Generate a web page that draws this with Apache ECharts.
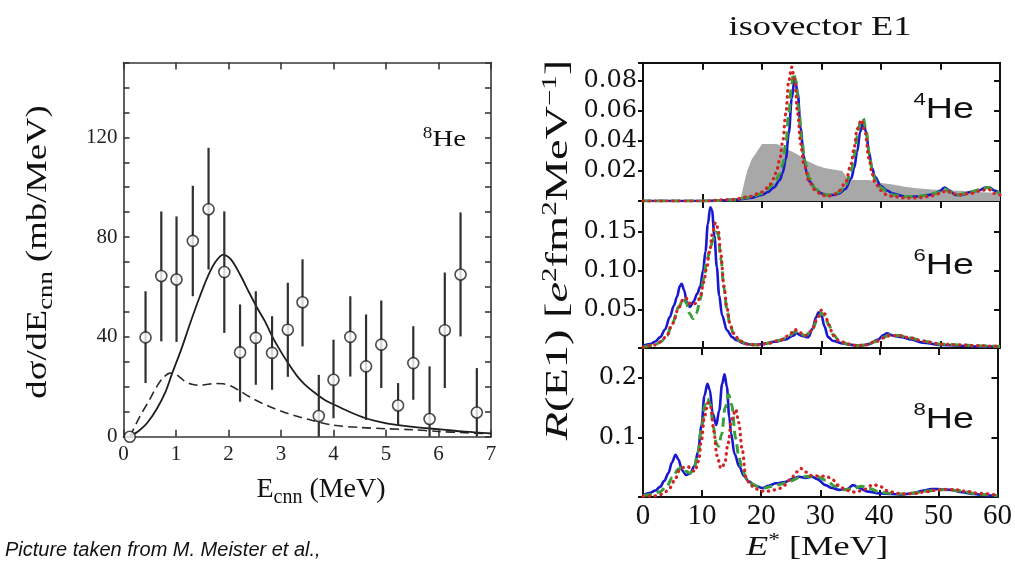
<!DOCTYPE html>
<html><head><meta charset="utf-8">
<script src="https://cdn.jsdelivr.net/npm/echarts@6/dist/echarts.min.js"></script>
<style>html,body{margin:0;padding:0;background:#fff}#c{width:1015px;height:566px}</style>
</head><body><div id="c"></div>
<script>
// ---------- Left panel: Meister et al. 8He data ----------
const meisterE  = [0.12,0.42,0.72,1.01,1.32,1.62,1.92,2.22,2.52,2.83,3.13,3.41,3.72,4.00,4.32,4.62,4.91,5.23,5.52,5.83,6.12,6.42,6.73];
const meisterY  = [0,39.8,64.4,63,78.5,91.2,66,33.8,39.6,33.6,42.9,53.9,8.3,22.8,40,28.2,36.9,12.5,29.5,7.1,42.7,65,9.7];
const meisterLo = [0,21.5,38.2,38,56.3,67,41.6,14,20.8,18.8,24,36.2,0,7.4,24.1,6.7,19.5,4.7,14.8,0,19.5,40.2,0];
const meisterHi = [0,58.3,90.3,88.3,100.6,115.8,90.3,53,58.3,48.3,61.7,71.1,24.8,38.9,56.3,49,54.6,21.5,44.3,28.2,65.8,89.9,27.5];
const fitSolid = [[0.12,0],[0.3,2.5],[0.45,5.5],[0.63,11],[0.8,18],[0.92,25],[1.1,35],[1.27,45.5],[1.45,56],[1.6,64],[1.75,70],[1.9,73],[2.05,71],[2.22,65],[2.4,57.5],[2.55,51.5],[2.7,46],[2.85,39.5],[3.0,34],[3.15,29],[3.3,24.5],[3.45,21],[3.65,17.5],[3.85,14.5],[4.05,12.5],[4.3,10],[4.6,7.5],[4.9,5.8],[5.2,4.7],[5.6,3.7],[6.0,3],[6.5,2],[7,1.3]];
const fitDashed = [[0.12,0],[0.31,8],[0.5,15],[0.63,20],[0.75,23.5],[0.89,25.5],[1.0,25],[1.15,22.5],[1.3,21],[1.45,20.6],[1.6,21],[1.75,21.3],[1.9,21.2],[2.05,20.3],[2.22,18.3],[2.4,16],[2.6,13.8],[2.86,11.4],[3.1,9.5],[3.37,7.8],[3.6,6.5],[4.0,4.6],[4.5,3.7],[5.0,3.2],[5.5,2.8],[6.0,2.1],[6.5,1.6],[6.95,1.2]];
const leftXTickLabels = ['0','1','2','3','4','5','6','7'];
const leftYTickLabels = ['0','40','80','120'];

// ---------- Right panels: isovector E1 strength ----------
const rightXTickLabels = ['0','10','20','30','40','50','60'];
const he4YTickLabels = ['0.02','0.04','0.06','0.08'];
const he6YTickLabels = ['0.05','0.10','0.15'];
const he8YTickLabels = ['0.1','0.2'];

const he4Exp = [[16,0],[16.5,0.003],[17,0.012],[17.5,0.02],[18.3,0.028],[19,0.032],[20,0.038],[22.5,0.038],[23.5,0.036],[24.5,0.034],[26,0.031],[27.5,0.027],[29,0.024],[30.5,0.022],[32,0.021],[33.5,0.02],[34.2,0.016],[35,0.014],[38,0.014],[40,0.012],[42,0.011],[44,0.0095],[46,0.0085],[48,0.0078],[50,0.0072],[52,0.007],[54,0.0066],[56,0.006],[58,0.0057],[60,0.0055]];
const he4Blue = [[0,0],[5,0],[10,0],[14,0.0005],[16,0.001],[18,0.002],[20,0.004],[21,0.006],[22,0.009],[23,0.014],[23.5,0.019],[24,0.028],[24.5,0.045],[25,0.068],[25.5,0.082],[26,0.072],[26.5,0.048],[27,0.03],[27.5,0.019],[28,0.013],[29,0.008],[30,0.005],[31,0.004],[32,0.004],[33,0.005],[34,0.008],[35,0.015],[35.5,0.022],[36,0.033],[36.5,0.046],[37,0.052],[37.5,0.046],[38,0.032],[38.5,0.022],[39,0.016],[40,0.01],[41,0.007],[42,0.005],[44,0.003],[46,0.003],[48,0.004],[49,0.005],[50,0.007],[50.7,0.009],[51.5,0.007],[52.5,0.004],[53.5,0.004],[55,0.006],[56.5,0.007],[57.5,0.009],[58.3,0.009],[59,0.007],[60,0.005]];
const he4Green = [[0,0],[10,0],[15,0.0007],[18,0.0025],[20,0.005],[22,0.011],[23,0.018],[23.5,0.025],[24,0.038],[24.5,0.058],[25,0.078],[25.3,0.085],[25.7,0.08],[26.2,0.06],[26.7,0.04],[27.2,0.026],[28,0.015],[29,0.008],[30,0.005],[31,0.004],[32,0.004],[33,0.006],[34,0.01],[35,0.02],[35.5,0.03],[36,0.043],[36.5,0.052],[37,0.055],[37.5,0.047],[38,0.032],[38.5,0.021],[39,0.014],[40,0.009],[41,0.006],[42,0.004],[44,0.003],[46,0.003],[48,0.004],[50,0.006],[50.8,0.008],[51.5,0.006],[53,0.004],[55,0.006],[57,0.008],[58,0.009],[59,0.007],[60,0.005]];
const he4Red = [[0,0],[10,0],[15,0.001],[18,0.003],[20,0.006],[21,0.009],[22,0.015],[22.5,0.021],[23,0.028],[23.5,0.04],[24,0.058],[24.5,0.08],[25,0.089],[25.5,0.08],[26,0.058],[26.5,0.038],[27,0.025],[28,0.012],[29,0.007],[30,0.004],[31,0.003],[32,0.004],[33,0.007],[34,0.012],[35,0.025],[35.5,0.036],[36,0.048],[36.7,0.054],[37.3,0.046],[38,0.028],[38.5,0.018],[39,0.012],[40,0.007],[41,0.004],[42,0.003],[44,0.002],[46,0.002],[48,0.003],[50,0.005],[51,0.007],[52,0.005],[53,0.004],[55,0.005],[57,0.007],[58,0.008],[59,0.005],[60,0.004]];

const he6Blue = [[0,0.003],[1.2,0.005],[2,0.008],[2.9,0.014],[3.7,0.024],[4.5,0.04],[5.2,0.055],[5.7,0.066],[6.2,0.08],[6.5,0.083],[6.9,0.075],[7.4,0.058],[7.9,0.053],[8.5,0.06],[9.1,0.07],[9.6,0.079],[10.1,0.1],[10.5,0.125],[10.9,0.16],[11.3,0.182],[11.6,0.178],[12.0,0.145],[12.4,0.105],[12.8,0.068],[13.3,0.042],[14.1,0.023],[15,0.014],[15.7,0.01],[17,0.006],[18.5,0.004],[20,0.005],[22,0.008],[24,0.011],[25.2,0.016],[25.8,0.019],[26.6,0.016],[27.8,0.014],[28.5,0.025],[29.1,0.04],[29.5,0.046],[30,0.042],[30.5,0.028],[31.1,0.014],[32,0.009],[33.6,0.006],[35,0.004],[36.5,0.003],[38,0.005],[39.5,0.011],[40.5,0.017],[41,0.019],[42,0.016],[43.5,0.014],[45,0.011],[47,0.007],[50,0.004],[53,0.003],[56,0.002],[60,0.002]];
const he6Green = [[0,0.001],[2,0.004],[3,0.008],[4,0.016],[5,0.033],[6,0.053],[6.8,0.064],[7.3,0.058],[7.8,0.045],[8.4,0.038],[9,0.045],[9.6,0.062],[10.2,0.09],[10.7,0.112],[11.2,0.125],[11.7,0.138],[12.2,0.15],[12.6,0.148],[13.1,0.115],[13.6,0.078],[14.1,0.05],[14.6,0.031],[15.2,0.019],[16.3,0.009],[17.5,0.005],[19,0.004],[21,0.006],[23,0.01],[24.5,0.015],[25.5,0.021],[26.3,0.019],[27.3,0.016],[28.3,0.022],[29.3,0.036],[30,0.045],[30.6,0.042],[31.2,0.03],[32,0.017],[33,0.009],[34.5,0.005],[36,0.003],[37.5,0.004],[39,0.008],[40.5,0.014],[41.5,0.017],[43,0.016],[45,0.013],[47,0.009],[50,0.005],[53,0.004],[56,0.003],[60,0.002]];
const he6Red = [[0,0.001],[2,0.004],[3,0.008],[4,0.016],[5,0.032],[6,0.052],[6.7,0.062],[7.2,0.065],[7.8,0.058],[8.3,0.056],[9,0.058],[9.6,0.065],[10.2,0.085],[10.7,0.103],[11.2,0.125],[11.7,0.15],[12.2,0.162],[12.6,0.155],[13.1,0.12],[13.6,0.08],[14.1,0.052],[14.6,0.032],[15.2,0.019],[16.3,0.009],[17.5,0.005],[19,0.004],[21,0.006],[23,0.01],[24.5,0.016],[25.5,0.024],[26.3,0.02],[27.3,0.016],[28.3,0.022],[29.3,0.038],[30,0.049],[30.6,0.044],[31.2,0.03],[32,0.016],[33,0.009],[34.5,0.005],[36,0.003],[37.5,0.004],[39,0.008],[40.5,0.013],[41.5,0.016],[43,0.016],[45,0.013],[47,0.009],[50,0.005],[53,0.004],[56,0.003],[60,0.002]];

const he8Blue = [[0,0.003],[1.2,0.007],[2.1,0.011],[2.9,0.017],[3.6,0.027],[4.3,0.04],[4.9,0.058],[5.5,0.071],[6,0.063],[6.6,0.045],[7.3,0.037],[8,0.04],[8.7,0.052],[9.3,0.075],[9.9,0.12],[10.4,0.17],[10.9,0.19],[11.3,0.18],[11.8,0.14],[12.4,0.121],[12.9,0.145],[13.4,0.19],[13.8,0.206],[14.2,0.185],[14.6,0.135],[14.9,0.107],[15.5,0.072],[16.3,0.051],[17.1,0.035],[17.9,0.026],[19,0.019],[20.2,0.015],[21.3,0.019],[22.5,0.023],[24,0.025],[25.2,0.03],[26.4,0.034],[27.5,0.032],[28.6,0.034],[29.5,0.03],[30.9,0.02],[32,0.015],[33.2,0.012],[34.5,0.013],[35.6,0.02],[36.5,0.015],[38.1,0.009],[40,0.006],[42,0.005],[43.7,0.004],[45.5,0.006],[47.5,0.011],[48.8,0.0135],[50.5,0.013],[52,0.012],[54,0.008],[56,0.005],[58,0.003],[60,0.002]];
const he8Green = [[0,0.002],[1.5,0.004],[2.9,0.009],[4,0.018],[5,0.033],[6,0.047],[6.6,0.05],[7.3,0.043],[8,0.04],[8.7,0.05],[9.3,0.075],[9.9,0.115],[10.5,0.155],[10.9,0.165],[11.4,0.155],[11.9,0.118],[12.4,0.09],[12.8,0.085],[13.3,0.105],[13.9,0.15],[14.5,0.172],[15,0.155],[15.7,0.098],[16.2,0.068],[16.8,0.045],[17.6,0.03],[18.5,0.022],[19.5,0.017],[20.5,0.015],[22,0.018],[23.5,0.022],[25,0.027],[26.5,0.033],[28,0.035],[29.5,0.034],[31,0.028],[32.5,0.018],[34,0.012],[35.5,0.014],[37,0.018],[38.5,0.014],[40,0.008],[42,0.006],[44,0.005],[46,0.007],[48,0.01],[50,0.012],[52,0.012],[54,0.01],[56,0.006],[58,0.004],[60,0.002]];
const he8Red = [[0,0.001],[2,0.002],[2.9,0.004],[3.7,0.008],[4.5,0.015],[5.3,0.027],[6.2,0.045],[7,0.05],[7.6,0.051],[8.3,0.045],[8.8,0.043],[9.4,0.06],[9.9,0.095],[10.4,0.135],[11,0.158],[11.5,0.15],[12,0.11],[12.5,0.07],[13.2,0.048],[13.8,0.055],[14.4,0.09],[15,0.13],[15.7,0.147],[16.2,0.125],[16.8,0.079],[17.4,0.034],[18.1,0.022],[18.8,0.015],[20,0.01],[21.5,0.01],[23,0.014],[24,0.02],[25,0.03],[26,0.042],[26.7,0.048],[27.5,0.042],[28.5,0.036],[30,0.035],[31,0.035],[32,0.03],[33,0.02],[34.5,0.011],[36,0.008],[37.5,0.013],[39,0.021],[40,0.018],[41.5,0.01],[43,0.006],[44.5,0.005],[46,0.006],[48,0.009],[50,0.012],[51.4,0.013],[53,0.012],[55,0.009],[57,0.006],[60,0.003]];

// ---------- chart ----------
const serif = "'Liberation Serif','Times New Roman',serif";
const sans = "'Liberation Sans',Arial,sans-serif";
const fmt = (list) => (v) => { const s = list.find(t => Math.abs(parseFloat(t) - v) < 1e-9); return s === undefined ? '' : s; };

const leftLine = {color:'#383838', width:1.6};
const rightLine = {color:'#111', width:2};

function axisBase(o){ return Object.assign({type:'value', splitLine:{show:false}, axisLine:{show:true,onZero:false}}, o); }

const xAxes = [
  axisBase({gridIndex:0, position:'bottom', min:0, max:7, interval:1, axisLine:{show:true,onZero:false,lineStyle:leftLine}, axisTick:{inside:true,length:7,lineStyle:leftLine}, axisLabel:{margin:7,fontFamily:serif,fontSize:21,color:'#222',formatter:fmt(leftXTickLabels)}}),
  axisBase({gridIndex:0, position:'top', min:0, max:7, interval:1, axisLine:{show:true,onZero:false,lineStyle:leftLine}, axisTick:{inside:true,length:7,lineStyle:leftLine}, axisLabel:{show:false}}),
];
const yAxes = [
  axisBase({gridIndex:0, position:'left', min:0, max:150, interval:10, axisLine:{show:true,onZero:false,lineStyle:leftLine}, axisTick:{inside:true,length:6,lineStyle:leftLine}, axisLabel:{margin:6,fontFamily:serif,fontSize:21,color:'#222',formatter:fmt(leftYTickLabels)}}),
  axisBase({gridIndex:0, position:'right', min:0, max:150, interval:10, axisLine:{show:true,onZero:false,lineStyle:leftLine}, axisTick:{inside:true,length:6,lineStyle:leftLine}, axisLabel:{show:false}}),
];
const panelY = [
  {max:0.092, interval:0.02, labels:he4YTickLabels},
  {max:0.19, interval:0.05, labels:he6YTickLabels},
  {max:0.25, interval:0.1, labels:he8YTickLabels},
];
panelY.forEach((p, i) => {
  const g = i + 1;
  xAxes.push(axisBase({gridIndex:g, position:'bottom', min:0, max:60, interval:10, axisLine:{show:true,onZero:false,lineStyle:rightLine}, axisTick:{inside:true,length:7,lineStyle:rightLine},
    axisLabel: g === 3 ? {margin:5,fontFamily:serif,fontSize:29,color:'#111',formatter:fmt(rightXTickLabels)} : {show:false}}));
  xAxes.push(axisBase({gridIndex:g, position:'top', min:0, max:60, interval:10, axisLine:{show:true,onZero:false,lineStyle:rightLine}, axisTick:{inside:true,length:7,lineStyle:rightLine}, axisLabel:{show:false}}));
  yAxes.push(axisBase({gridIndex:g, position:'left', min:0, max:p.max, interval:p.interval, axisLine:{show:true,onZero:false,lineStyle:rightLine}, axisTick:{inside:false,length:5,lineStyle:rightLine},
    axisLabel:{margin:6,fontFamily:"'DejaVu Serif',serif",fontSize:24,color:'#111',formatter:fmt(p.labels)}}));
  yAxes.push(axisBase({gridIndex:g, position:'right', min:0, max:p.max, interval:p.interval, axisLine:{show:true,onZero:false,lineStyle:rightLine}, axisTick:{inside:true,length:6,lineStyle:rightLine}, axisLabel:{show:false}}));
});

const series = [
  {type:'line', xAxisIndex:0, yAxisIndex:0, data:fitDashed, symbol:'none', smooth:0.3, lineStyle:{color:'#2a2a2a', width:1.6, type:[9,5]}, z:2},
  {type:'line', xAxisIndex:0, yAxisIndex:0, data:fitSolid, symbol:'none', smooth:0.3, lineStyle:{color:'#1e1e1e', width:1.8}, z:2},
  {type:'custom', xAxisIndex:0, yAxisIndex:0, z:3,
    data: meisterE.map((x, i) => [x, meisterLo[i], meisterHi[i]]),
    encode:{x:0, y:[1,2]},
    renderItem: (params, api) => {
      const a = api.coord([api.value(0), api.value(1)]);
      const b = api.coord([api.value(0), api.value(2)]);
      return {type:'line', shape:{x1:a[0], y1:a[1], x2:b[0], y2:b[1]}, style:{stroke:'#2f2f2f', lineWidth:2.2}};
    }},
  {type:'scatter', xAxisIndex:0, yAxisIndex:0, z:5, symbol:'circle', symbolSize:11,
    data: meisterE.map((x, i) => [x, meisterY[i]]),
    itemStyle:{color:'#fff', borderColor:'#1e1e1e', borderWidth:1.6}},
  {type:'line', xAxisIndex:2, yAxisIndex:2, data:he4Exp, symbol:'none', lineStyle:{width:0}, itemStyle:{color:'#a8a8a8'}, areaStyle:{color:'#a8a8a8', opacity:1}, z:1},
];
const panels = [[he4Blue, he4Green, he4Red], [he6Blue, he6Green, he6Red], [he8Blue, he8Green, he8Red]];
panels.forEach((arr, i) => {
  const xi = 2 + 2*i, yi = 2 + 2*i;
  series.push({type:'line', xAxisIndex:xi, yAxisIndex:yi, data:arr[0], symbol:'none', smooth:0.35, smoothMonotone:'x', lineStyle:{color:'#1818d0', width:2.6}, z:3});
  series.push({type:'line', xAxisIndex:xi, yAxisIndex:yi, data:arr[1], symbol:'none', smooth:0.35, smoothMonotone:'x', lineStyle:{color:'#3c9e3c', width:3, type:[9,5]}, z:4});
  series.push({type:'line', xAxisIndex:xi, yAxisIndex:yi, data:arr[2], symbol:'none', smooth:0.35, smoothMonotone:'x', lineStyle:{color:'#d22424', width:3.2, type:[0.5,5.5], cap:'round'}, z:5});
});

const mainTok = (size, fam, extra) => Object.assign({fontSize:size, fontFamily:fam, fill:'#111', lineHeight:size+4, verticalAlign:'top'}, extra || {});
const graphic = [
  // left y label
  {type:'text', x:40, y:252, rotation:Math.PI/2, scaleX:1.22, style:{
    text:'{a|dσ/dE}{s|cnn}{a| (mb/MeV)}', align:'center', verticalAlign:'middle',
    rich:{a:mainTok(30, serif), s:{fontSize:22, fontFamily:serif, fill:'#111', lineHeight:24, padding:[14,0,0,0], verticalAlign:'bottom'}}}},
  // left x label
  {type:'text', x:321, y:492, style:{
    text:'{a|E}{s|cnn}{a| (MeV)}', align:'center', verticalAlign:'middle',
    rich:{a:mainTok(28, serif), s:{fontSize:20, fontFamily:serif, fill:'#111', lineHeight:22, padding:[14,0,0,0], verticalAlign:'bottom'}}}},
  // left 8He
  {type:'text', x:466, y:139, scaleX:1.2, style:{
    text:'{p|8}{a|He}', align:'right', verticalAlign:'middle',
    rich:{a:{fontSize:24, fontFamily:serif, fill:'#111', lineHeight:26, verticalAlign:'bottom'}, p:{fontSize:16, fontFamily:serif, fill:'#111', lineHeight:18, verticalAlign:'top'}}}},
  // caption
  {type:'text', x:5, y:550, style:{text:'Picture taken from M. Meister et al.,', font:"italic 20px 'Liberation Sans', Arial, sans-serif", fill:'#111', align:'left', verticalAlign:'middle'}},
  // right title
  {type:'text', x:820, y:28, scaleX:1.3, style:{text:'isovector E1', font:"28px 'Liberation Serif', serif", fill:'#111', align:'center', verticalAlign:'middle'}},
  // right x label
  {type:'text', x:817, y:547, scaleX:1.3, style:{
    text:'{i|E}{p|*}{a| [MeV]}', align:'center', verticalAlign:'middle',
    rich:{a:{fontSize:28, fontFamily:serif, fill:'#111', lineHeight:30, verticalAlign:'bottom'}, i:{fontSize:28, fontFamily:serif, fontStyle:'italic', fill:'#111', lineHeight:30, verticalAlign:'bottom'}, p:{fontSize:18, fontFamily:serif, fill:'#111', lineHeight:20, verticalAlign:'top'}}}},
  // right y label
  {type:'text', x:558, y:250, rotation:Math.PI/2, scaleX:1.45, style:{
    text:'{i|R}{a|(E1) [}{i|e}{p|2}{a|fm}{p|2}{a|MeV}{p|−1}{a|]}', align:'center', verticalAlign:'middle',
    rich:{a:{fontSize:32, fontFamily:serif, fill:'#111', lineHeight:34, verticalAlign:'bottom'}, i:{fontSize:32, fontFamily:serif, fontStyle:'italic', fill:'#111', lineHeight:34, verticalAlign:'bottom'}, p:{fontSize:20, fontFamily:serif, fill:'#111', lineHeight:22, verticalAlign:'top'}}}},
];
[['4', 108], ['6', 264], ['8', 418]].forEach(([n, y]) => {
  graphic.push({type:'text', x:974, y:y, scaleX:1.3, style:{
    text:'{p|' + n + '}{a|He}', align:'right', verticalAlign:'middle',
    rich:{a:{fontSize:29, fontFamily:sans, fill:'#111', lineHeight:32, verticalAlign:'bottom'}, p:{fontSize:17, fontFamily:sans, fill:'#111', lineHeight:19, verticalAlign:'top'}}}});
});

const chart = echarts.init(document.getElementById('c'), null, {renderer:'canvas'});
chart.setOption({
  animation:false,
  backgroundColor:'#fff',
  grid:[
    {left:123.5, top:62.5, width:367.5, height:374.2},
    {left:643, top:62.7, width:357, height:138.3},
    {left:643, top:201, width:357, height:147},
    {left:643, top:348, width:357, height:149},
  ],
  xAxis:xAxes,
  yAxis:yAxes,
  series:series,
  graphic:graphic,
});
</script></body></html>
